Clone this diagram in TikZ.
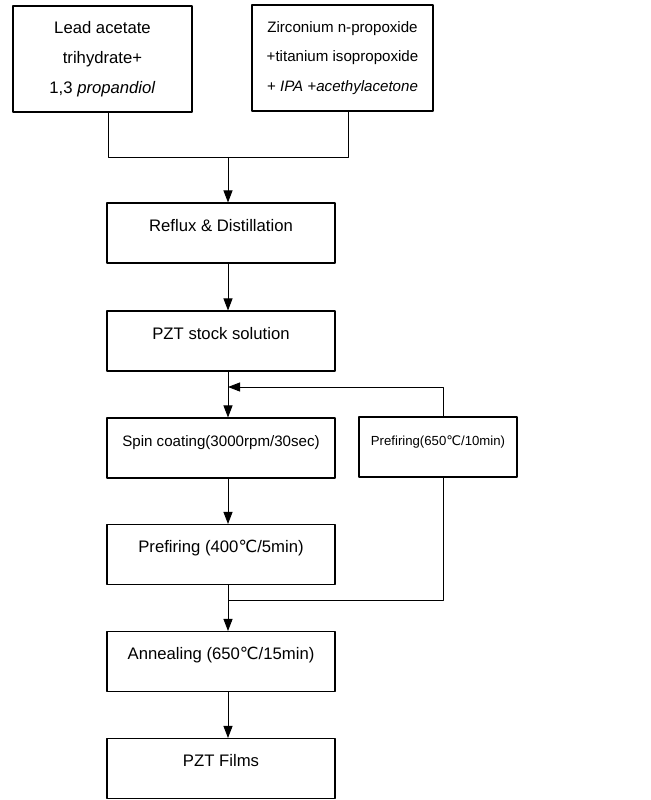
\documentclass[tikz,border=0pt]{standalone}
\usepackage{fontspec}
\setmainfont{Liberation Sans}
\newfontfamily\degfont{DejaVu Sans}
\newcommand{\degC}{{\degfont ℃}}
\usetikzlibrary{arrows.meta}

\begin{document}
\begin{tikzpicture}[x=0.02cm, y=-0.02cm, line width=0.5pt, line join=round, >={Triangle[length=2.4mm,width=1.8mm]},
    srcbox/.style={draw, line width=0.6pt, align=center, minimum height=2.12cm, font=\fontsize{9.5}{17}\selectfont},
    stepbox/.style={draw, line width=0.6pt, minimum width=4.56cm, minimum height=1.2cm, inner ysep=0pt,
        text height=16pt, text depth=18pt, font=\fontsize{9.5}{11}\selectfont}]
    \useasboundingbox (0,0) rectangle (651,800);
    \path
    (108,157) coordinate (jl)
    (348,157) coordinate (jr)
    (228,157) coordinate (jm)
    (443,387) coordinate (ret)
    (443,600) coordinate (join)
    ;
    % starting materials
    \node[srcbox, minimum width=3.58cm] (lead) at (102.5,59) {Lead acetate\\trihydrate+\\1,3 \textit{propandiol}};
    \node[srcbox, minimum width=3.62cm, font=\fontsize{8.6}{17}\selectfont] (zirc) at (342.5,58)
        {Zirconium n-propoxide\\+titanium isopropoxide\\+ \textit{IPA +acethylacetone}};
    % process steps
    \node[stepbox] (reflux) at (221,233) {Reflux \& Distillation};
    \node[stepbox] (stock) at (221,341) {PZT stock solution};
    \node[stepbox, font=\fontsize{8.6}{11}\selectfont] (spin) at (221,448) {Spin coating(3000rpm/30sec)};
    \node[stepbox] (pre) at (221,554.5) {Prefiring (400\degC/5min)};
    \node[stepbox] (anneal) at (221,661.5) {Annealing (650\degC/15min)};
    \node[stepbox] (films) at (221,768.5) {PZT Films};
    \node[stepbox, minimum width=3.16cm, font=\fontsize{7.5}{9}\selectfont] (refire) at (438,447) {Prefiring(650\degC/10min)};

    \draw (lead.south -| jl) -- (jl) -- (jr) -- (zirc.south -| jr);
    \draw[->] (jm) -- (reflux.north -| jm);
    \foreach \a/\b in {reflux/stock, stock/spin, spin/pre, pre/anneal, anneal/films}{
        \draw[->] (\a.south -| jm) -- (\b.north -| jm);
    }
    % repeat loop
    \draw[->] (refire.north -| ret) -- (ret) -- (ret -| jm);
    \draw (refire.south -| ret) -- (join) -- (join -| jm);
\end{tikzpicture}
\end{document}
